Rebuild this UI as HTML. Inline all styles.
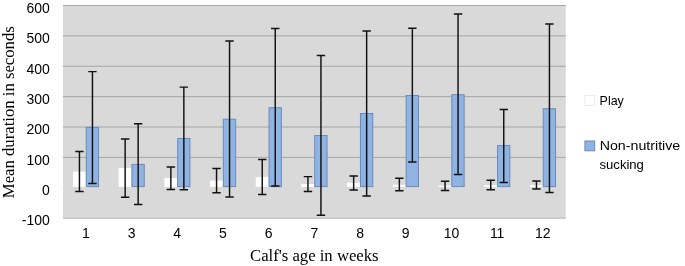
<!DOCTYPE html>
<html><head><meta charset="utf-8"><title>Chart</title>
<style>html,body{margin:0;padding:0;background:#fff}svg{display:block}</style>
</head><body>
<svg width="685" height="266" viewBox="0 0 685 266">
<rect x="0" y="0" width="685" height="266" fill="#fff"/>
<rect x="63.0" y="5.0" width="502.70000000000005" height="213.7" fill="#d9d9d9"/>
<line x1="63.0" x2="565.7" y1="157.40" y2="157.40" stroke="#a6a6a6" stroke-width="1"/>
<line x1="63.0" x2="565.7" y1="127.02" y2="127.02" stroke="#a6a6a6" stroke-width="1"/>
<line x1="63.0" x2="565.7" y1="96.64" y2="96.64" stroke="#a6a6a6" stroke-width="1"/>
<line x1="63.0" x2="565.7" y1="66.26" y2="66.26" stroke="#a6a6a6" stroke-width="1"/>
<line x1="63.0" x2="565.7" y1="35.88" y2="35.88" stroke="#a6a6a6" stroke-width="1"/>
<line x1="63.0" x2="565.7" y1="5.50" y2="5.50" stroke="#a6a6a6" stroke-width="1"/>
<line x1="63.0" x2="565.7" y1="218.00" y2="218.00" stroke="#c4c4c4" stroke-width="1.4"/>
<line x1="61.5" x2="63.0" y1="187.38" y2="187.38" stroke="#e4e4e4" stroke-width="1"/>
<rect x="72.95" y="171.60" width="12.80" height="15.40" fill="#fff"/>
<rect x="86.25" y="127.40" width="12.3" height="59.20" fill="#8fb3e2" stroke="#6c8aba" stroke-width="1"/>
<rect x="118.65" y="168.00" width="12.80" height="19.00" fill="#fff"/>
<rect x="131.95" y="164.40" width="12.3" height="22.20" fill="#8fb3e2" stroke="#6c8aba" stroke-width="1"/>
<rect x="164.35" y="178.00" width="12.80" height="9.00" fill="#fff"/>
<rect x="177.65" y="138.50" width="12.3" height="48.10" fill="#8fb3e2" stroke="#6c8aba" stroke-width="1"/>
<rect x="210.05" y="180.60" width="12.80" height="6.40" fill="#fff"/>
<rect x="223.35" y="119.20" width="12.3" height="67.40" fill="#8fb3e2" stroke="#6c8aba" stroke-width="1"/>
<rect x="255.75" y="177.10" width="12.80" height="9.90" fill="#fff"/>
<rect x="269.05" y="107.70" width="12.3" height="78.90" fill="#8fb3e2" stroke="#6c8aba" stroke-width="1"/>
<rect x="301.45" y="184.00" width="12.80" height="3.00" fill="#fff"/>
<rect x="314.75" y="135.50" width="12.3" height="51.10" fill="#8fb3e2" stroke="#6c8aba" stroke-width="1"/>
<rect x="347.15" y="182.80" width="12.80" height="4.20" fill="#fff"/>
<rect x="360.45" y="113.50" width="12.3" height="73.10" fill="#8fb3e2" stroke="#6c8aba" stroke-width="1"/>
<rect x="392.85" y="184.70" width="12.80" height="2.30" fill="#fff"/>
<rect x="406.15" y="95.50" width="12.3" height="91.10" fill="#8fb3e2" stroke="#6c8aba" stroke-width="1"/>
<rect x="438.55" y="185.70" width="12.80" height="1.30" fill="#fff"/>
<rect x="451.85" y="94.70" width="12.3" height="91.90" fill="#8fb3e2" stroke="#6c8aba" stroke-width="1"/>
<rect x="484.25" y="185.20" width="12.80" height="1.80" fill="#fff"/>
<rect x="497.55" y="145.50" width="12.3" height="41.10" fill="#8fb3e2" stroke="#6c8aba" stroke-width="1"/>
<rect x="529.95" y="185.20" width="12.80" height="1.80" fill="#fff"/>
<rect x="543.25" y="108.70" width="12.3" height="77.90" fill="#8fb3e2" stroke="#6c8aba" stroke-width="1"/>
<path d="M79.45 151.50V191.40M75.25 151.50H83.65M75.25 191.40H83.65" stroke="#111" stroke-width="1.45" fill="none"/>
<path d="M92.45 71.60V183.40M88.25 71.60H96.65M88.25 183.40H96.65" stroke="#111" stroke-width="1.45" fill="none"/>
<path d="M125.15 139.00V197.30M120.95 139.00H129.35M120.95 197.30H129.35" stroke="#111" stroke-width="1.45" fill="none"/>
<path d="M138.15 123.70V204.50M133.95 123.70H142.35M133.95 204.50H142.35" stroke="#111" stroke-width="1.45" fill="none"/>
<path d="M170.85 167.00V189.50M166.65 167.00H175.05M166.65 189.50H175.05" stroke="#111" stroke-width="1.45" fill="none"/>
<path d="M183.85 87.10V189.70M179.65 87.10H188.05M179.65 189.70H188.05" stroke="#111" stroke-width="1.45" fill="none"/>
<path d="M216.55 168.50V192.70M212.35 168.50H220.75M212.35 192.70H220.75" stroke="#111" stroke-width="1.45" fill="none"/>
<path d="M229.55 41.00V197.00M225.35 41.00H233.75M225.35 197.00H233.75" stroke="#111" stroke-width="1.45" fill="none"/>
<path d="M262.25 159.50V194.50M258.05 159.50H266.45M258.05 194.50H266.45" stroke="#111" stroke-width="1.45" fill="none"/>
<path d="M275.25 28.50V186.00M271.05 28.50H279.45M271.05 186.00H279.45" stroke="#111" stroke-width="1.45" fill="none"/>
<path d="M307.95 176.60V191.50M303.75 176.60H312.15M303.75 191.50H312.15" stroke="#111" stroke-width="1.45" fill="none"/>
<path d="M320.95 55.50V215.30M316.75 55.50H325.15M316.75 215.30H325.15" stroke="#111" stroke-width="1.45" fill="none"/>
<path d="M353.65 176.00V190.00M349.45 176.00H357.85M349.45 190.00H357.85" stroke="#111" stroke-width="1.45" fill="none"/>
<path d="M366.65 31.00V196.00M362.45 31.00H370.85M362.45 196.00H370.85" stroke="#111" stroke-width="1.45" fill="none"/>
<path d="M399.35 178.30V190.70M395.15 178.30H403.55M395.15 190.70H403.55" stroke="#111" stroke-width="1.45" fill="none"/>
<path d="M412.35 28.20V162.00M408.15 28.20H416.55M408.15 162.00H416.55" stroke="#111" stroke-width="1.45" fill="none"/>
<path d="M445.05 181.20V190.40M440.85 181.20H449.25M440.85 190.40H449.25" stroke="#111" stroke-width="1.45" fill="none"/>
<path d="M458.05 14.00V174.40M453.85 14.00H462.25M453.85 174.40H462.25" stroke="#111" stroke-width="1.45" fill="none"/>
<path d="M490.75 180.30V189.80M486.55 180.30H494.95M486.55 189.80H494.95" stroke="#111" stroke-width="1.45" fill="none"/>
<path d="M503.75 109.40V182.50M499.55 109.40H507.95M499.55 182.50H507.95" stroke="#111" stroke-width="1.45" fill="none"/>
<path d="M536.45 181.00V189.00M532.25 181.00H540.65M532.25 189.00H540.65" stroke="#111" stroke-width="1.45" fill="none"/>
<path d="M549.45 24.00V192.50M545.25 24.00H553.65M545.25 192.50H553.65" stroke="#111" stroke-width="1.45" fill="none"/>
<g font-family="'Liberation Sans', sans-serif" font-size="14" fill="#000" text-anchor="end">
<text x="49.8" y="225.46">-100</text>
<text x="49.8" y="195.08">0</text>
<text x="49.8" y="164.70">100</text>
<text x="49.8" y="134.32">200</text>
<text x="49.8" y="103.94">300</text>
<text x="49.8" y="73.56">400</text>
<text x="49.8" y="43.18">500</text>
<text x="49.8" y="12.80">600</text>
</g>
<g font-family="'Liberation Sans', sans-serif" font-size="14" fill="#000" text-anchor="middle">
<text x="85.85" y="238">1</text>
<text x="131.55" y="238">3</text>
<text x="177.25" y="238">4</text>
<text x="222.95" y="238">5</text>
<text x="268.65" y="238">6</text>
<text x="314.35" y="238">7</text>
<text x="360.05" y="238">8</text>
<text x="405.75" y="238">9</text>
<text x="451.45" y="238">10</text>
<text x="497.15" y="238">11</text>
<text x="542.85" y="238">12</text>
</g>
<text x="314.3" y="261.4" font-family="'Liberation Serif', serif" font-size="16.7" text-anchor="middle" fill="#000">Calf's age in weeks</text>
<text transform="translate(13.9,112.2) rotate(-90)" font-family="'Liberation Serif', serif" font-size="16.7" text-anchor="middle" fill="#000">Mean duration in seconds</text>
<rect x="584.9" y="95.6" width="9.8" height="9.8" fill="#fff" stroke="#e6eaf6" stroke-width="1"/>
<rect x="584.9" y="141" width="9.8" height="9.8" fill="#8fb3e2" stroke="#6c8aba" stroke-width="1"/>
<g font-family="'Liberation Sans', sans-serif" font-size="13" fill="#000">
<text x="599.6" y="105.3" textLength="24.2" lengthAdjust="spacingAndGlyphs">Play</text>
<text x="599.7" y="150.3" textLength="80.6" lengthAdjust="spacingAndGlyphs">Non-nutritive</text>
<text x="599.5" y="168.6" textLength="44.4" lengthAdjust="spacingAndGlyphs">sucking</text>
</g>
</svg>
</body></html>
